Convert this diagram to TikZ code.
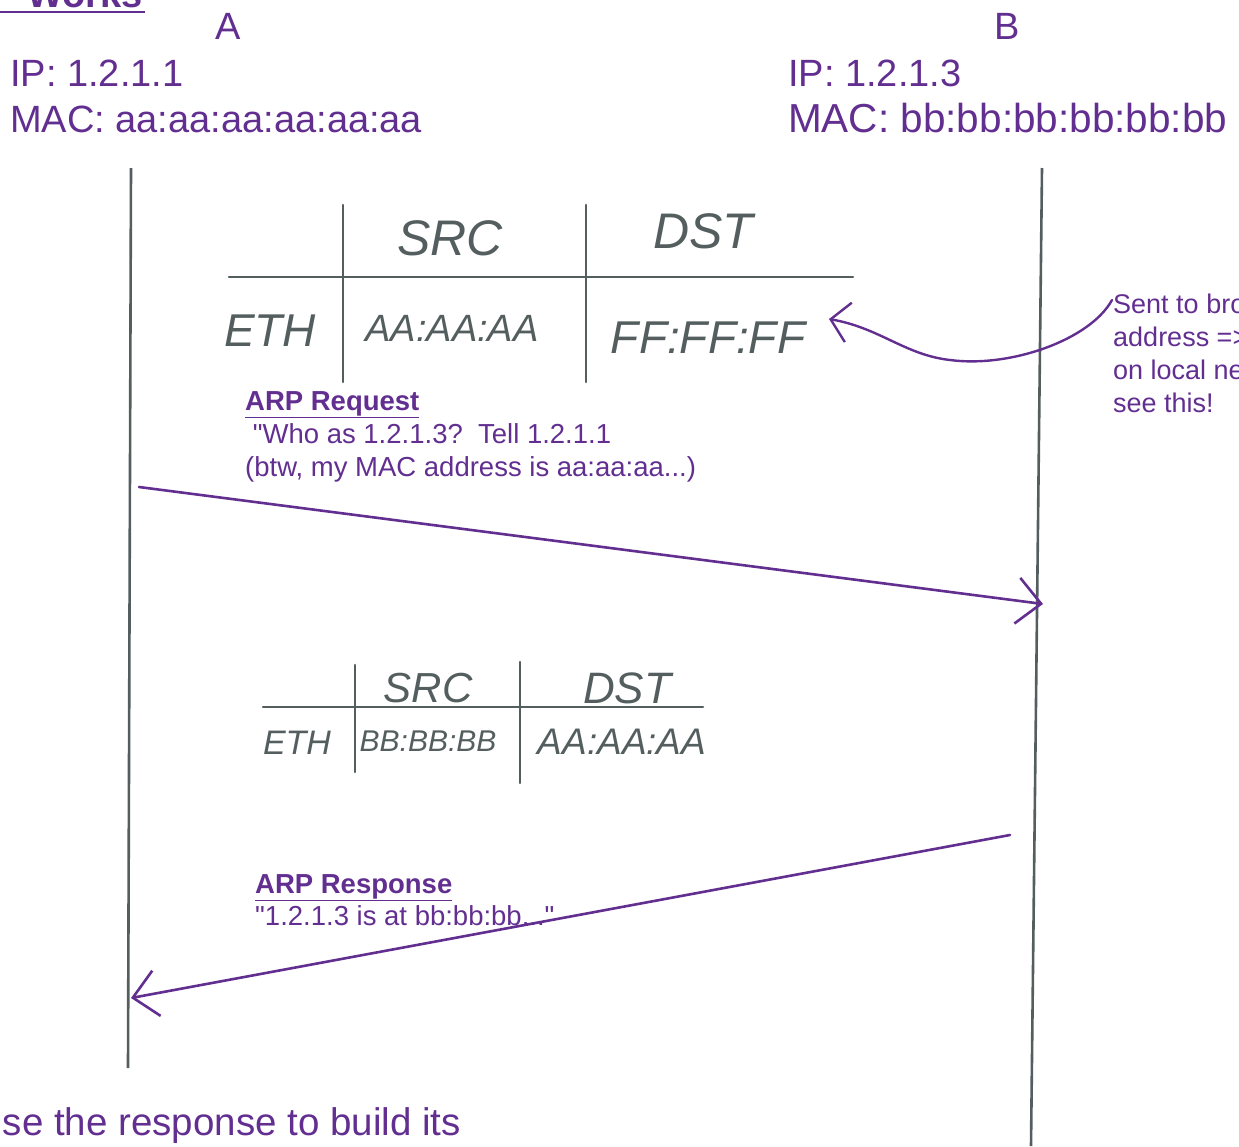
\documentclass[tikz,border=0pt]{standalone}
\usepackage{fontspec}
\setmainfont{Liberation Sans}
\usetikzlibrary{arrows.meta}
\definecolor{purp}{RGB}{98,47,145}
\definecolor{slate}{RGB}{84,94,94}
\tikzset{
  lbl/.style={inner sep=0pt, text=purp, font=\fontsize{38}{46}\selectfont, anchor=base west},
  note/.style={inner sep=0pt, text=purp, font=\fontsize{27}{33}\selectfont, anchor=base west},
  hand/.style={inner sep=0pt, text=slate, anchor=base},
  life/.style={draw=slate, line width=2.6pt},
  grid/.style={draw=slate, line width=2.6pt, line cap=round},
  msg/.style={draw=purp, line width=2.6pt, line cap=round, -{Straight Barb[length=24pt,width=46pt,line width=2.6pt]}},
}
\begin{document}
\begin{tikzpicture}[x=1pt,y=-1pt]
\useasboundingbox (0,0) rectangle (1239,1146);
% title remnant
\node[inner sep=0pt, text=purp, anchor=base east, font=\fontsize{38}{46}\selectfont\bfseries] (title) at (143,7) {Works};
\coordinate (ul1) at (0,12); \coordinate (ul2) at (145,12);
\draw[draw=purp, line width=2.6pt] (ul1) -- (ul2);
% hosts
\node[lbl, anchor=base] (hA) at (228,39) {A};
\node[lbl, anchor=base] (hB) at (1007,39) {B};
\node[lbl] (ipA) at (10,86) {IP: 1.2.1.1};
\node[lbl] (macA) at (10,132) {MAC: aa:aa:aa:aa:aa:aa};
\node[lbl] (ipB) at (788,86) {IP: 1.2.1.3};
\node[lbl, font=\fontsize{40.5}{46}\selectfont] (macB) at (788,132) {MAC: bb:bb:bb:bb:bb:bb};
% lifelines
\coordinate (a1) at (131,168); \coordinate (a2) at (128,1068);
\coordinate (b1) at (1042,168); \coordinate (b2) at (1031,1146);
\draw[life] (a1) -- (a2);
\draw[life] (b1) -- (b2);
% table 1
\coordinate (t1h1) at (229,277); \coordinate (t1h2) at (853,277);
\coordinate (t1v1a) at (343,205); \coordinate (t1v1b) at (343,382);
\coordinate (t1v2a) at (586,205); \coordinate (t1v2b) at (586,382);
\draw[grid] (t1h1) -- (t1h2);
\draw[grid] (t1v1a) -- (t1v1b);
\draw[grid] (t1v2a) -- (t1v2b);
\node[hand, font=\fontsize{50}{50}\selectfont\itshape] (src1) at (450,255) {SRC};
\node[hand, font=\fontsize{50}{50}\selectfont\itshape] (dst1) at (703,248) {DST};
\node[hand, font=\fontsize{46}{46}\selectfont\itshape] (eth1) at (270,346) {ETH};
\node[hand, font=\fontsize{38}{38}\selectfont\itshape] (sa1) at (452,341) {AA:AA:AA};
\node[hand, font=\fontsize{46}{46}\selectfont\itshape] (da1) at (708,353) {FF:FF:FF};
% broadcast note
\node[note] (bc1) at (1113,313) {Sent to broadcast};
\node[note] (bc2) at (1113,346) {address =>all hosts};
\node[note] (bc3) at (1113,379) {on local network};
\node[note] (bc4) at (1113,412) {see this!};
\coordinate (n1) at (1112,300);
\coordinate (n2) at (829,319);
\draw[draw=purp, line width=2.4pt, line cap=round, -{Straight Barb[length=18pt,width=40pt,line width=2.4pt]}]
  (n1) .. controls (1090,340) and (1010,368) .. (950,360) .. controls (905,355) and (880,328) .. (n2);
% ARP request
\node[note, font=\fontsize{27.5}{33}\selectfont\bfseries] (rqh) at (245,410) {\underline{ARP Request}};
\node[note, font=\fontsize{27.5}{33}\selectfont] (rqt1) at (245,443) {\ \textquotedbl Who as 1.2.1.3?\ \ Tell 1.2.1.1};
\node[note, font=\fontsize{27.5}{33}\selectfont] (rqt2) at (245,476) {(btw, my MAC address is aa:aa:aa...)};
\coordinate (rq1) at (139,487); \coordinate (rq2) at (1043,604);
\draw[msg] (rq1) -- (rq2);
% table 2
\coordinate (t2h1) at (263,707); \coordinate (t2h2) at (703,707);
\coordinate (t2v1a) at (355,665); \coordinate (t2v1b) at (355,772);
\coordinate (t2v2a) at (520,662); \coordinate (t2v2b) at (520,783);
\draw[grid] (t2h1) -- (t2h2);
\draw[grid] (t2v1a) -- (t2v1b);
\draw[grid] (t2v2a) -- (t2v2b);
\node[hand, font=\fontsize{42}{42}\selectfont\itshape] (src2) at (428,702) {SRC};
\node[hand, font=\fontsize{44}{44}\selectfont\itshape] (dst2) at (627,703) {DST};
\node[hand, font=\fontsize{34}{34}\selectfont\itshape] (eth2) at (297,754) {ETH};
\node[hand, font=\fontsize{30}{30}\selectfont\itshape] (sa2) at (428,751) {BB:BB:BB};
\node[hand, font=\fontsize{37}{37}\selectfont\itshape] (da2) at (622,754) {AA:AA:AA};
% ARP response
\node[note, font=\fontsize{27.5}{33}\selectfont\bfseries] (rsh) at (255,893) {\underline{ARP Response}};
\node[note, font=\fontsize{27.5}{33}\selectfont] (rst) at (255,925) {\textquotedbl 1.2.1.3 is at bb:bb:bb...\textquotedbl};
\coordinate (rs1) at (1010,835); \coordinate (rs2) at (131,998);
\draw[msg] (rs1) -- (rs2);
% bottom text
\node[lbl, anchor=base east, font=\fontsize{38.5}{46}\selectfont] (bot) at (461,1135) {use the response to build its};
\end{tikzpicture}
\end{document}
